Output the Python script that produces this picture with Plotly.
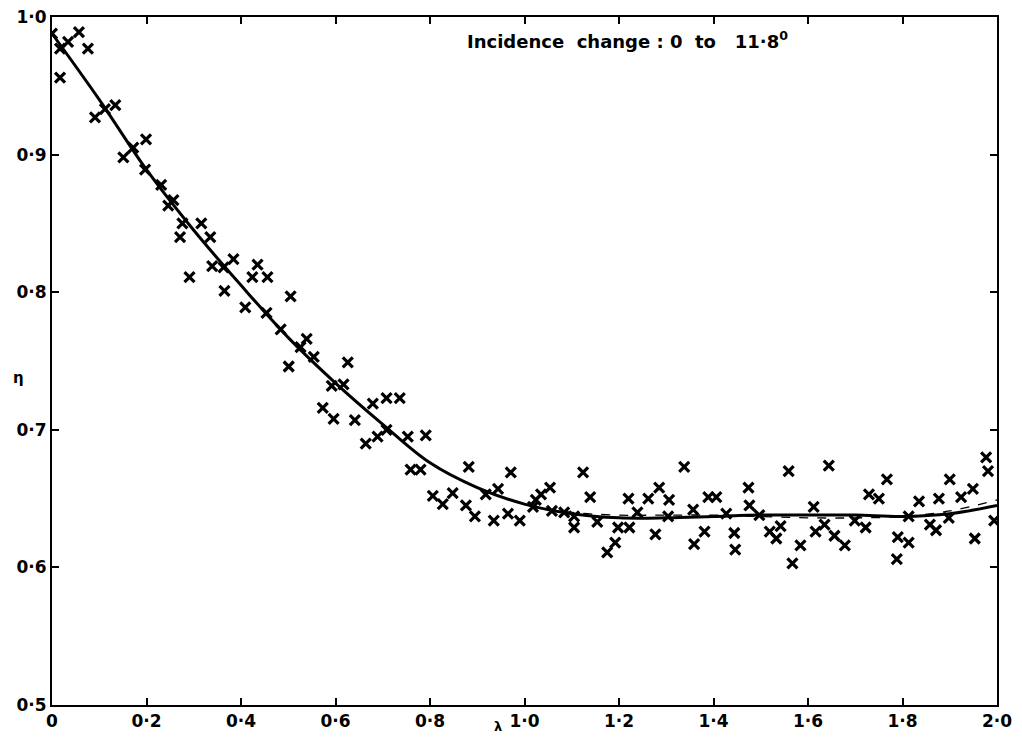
import plotly.graph_objects as go

# Measured points (lambda, eta)
lam = [0.0, 0.017, 0.034, 0.057, 0.076, 0.017, 0.091, 0.112, 0.134, 0.151, 0.172, 0.199, 0.197,
       0.231, 0.246, 0.257, 0.276, 0.316, 0.271, 0.335, 0.339, 0.363, 0.384, 0.435, 0.424, 0.456,
       0.291, 0.365, 0.409, 0.454, 0.505, 0.484, 0.539, 0.526, 0.554, 0.501, 0.626, 0.592, 0.617,
       0.573, 0.596, 0.641, 0.679, 0.708, 0.736, 0.708, 0.689, 0.664, 0.753, 0.791, 0.759, 0.780,
       0.882, 0.971, 0.806, 0.827, 0.848, 0.876, 0.895, 0.918, 0.944, 0.935, 0.965, 0.990, 1.018,
       1.024, 1.035, 1.054, 1.058, 1.084, 1.105, 1.105, 1.124, 1.139, 1.154, 1.175, 1.192, 1.198,
       1.222, 1.220, 1.262, 1.239, 1.285, 1.338, 1.306, 1.304, 1.277, 1.357, 1.359, 1.381, 1.389,
       1.406, 1.427, 1.444, 1.446, 1.474, 1.476, 1.497, 1.519, 1.533, 1.542, 1.559, 1.584, 1.567,
       1.612, 1.616, 1.635, 1.644, 1.656, 1.678, 1.699, 1.722, 1.729, 1.750, 1.767, 1.790, 1.788,
       1.813, 1.813, 1.835, 1.858, 1.871, 1.877, 1.900, 1.898, 1.924, 1.949, 1.953, 1.977, 1.981,
       1.994]
eta = [0.988, 0.977, 0.982, 0.989, 0.977, 0.956, 0.927, 0.933, 0.936, 0.898, 0.905, 0.911, 0.889,
       0.878, 0.863, 0.867, 0.850, 0.850, 0.840, 0.840, 0.819, 0.818, 0.824, 0.820, 0.811, 0.811,
       0.811, 0.801, 0.789, 0.785, 0.797, 0.773, 0.766, 0.760, 0.753, 0.746, 0.749, 0.732, 0.733,
       0.716, 0.708, 0.707, 0.719, 0.723, 0.723, 0.700, 0.695, 0.690, 0.695, 0.696, 0.671, 0.671,
       0.673, 0.669, 0.652, 0.646, 0.654, 0.645, 0.637, 0.653, 0.657, 0.634, 0.639, 0.634, 0.644,
       0.649, 0.653, 0.658, 0.641, 0.640, 0.637, 0.629, 0.669, 0.651, 0.633, 0.611, 0.618, 0.629,
       0.629, 0.650, 0.650, 0.640, 0.658, 0.673, 0.649, 0.637, 0.624, 0.642, 0.617, 0.626, 0.651,
       0.651, 0.639, 0.625, 0.613, 0.658, 0.645, 0.638, 0.626, 0.621, 0.630, 0.670, 0.616, 0.603,
       0.644, 0.626, 0.631, 0.674, 0.623, 0.616, 0.634, 0.629, 0.653, 0.650, 0.664, 0.622, 0.606,
       0.618, 0.637, 0.648, 0.631, 0.627, 0.650, 0.664, 0.636, 0.651, 0.657, 0.621, 0.680, 0.670,
       0.634]

# Fitted curves
curve_lam = [0.0, 0.1, 0.2, 0.3, 0.4, 0.5, 0.6, 0.7, 0.8, 0.9, 1.0, 1.1, 1.2, 1.3, 1.4, 1.5,
             1.6, 1.7, 1.8, 1.9, 2.0]
solid_eta = [0.988, 0.940, 0.889, 0.845, 0.805, 0.767, 0.734, 0.704, 0.676, 0.658, 0.646, 0.639,
             0.636, 0.636, 0.637, 0.638, 0.638, 0.638, 0.637, 0.639, 0.645]
dashed_eta = [0.988, 0.940, 0.889, 0.845, 0.805, 0.767, 0.734, 0.704, 0.676, 0.658, 0.646, 0.640,
              0.638, 0.638, 0.638, 0.637, 0.636, 0.636, 0.637, 0.641, 0.649]

x_ticks = [0, 0.2, 0.4, 0.6, 0.8, 1.0, 1.2, 1.4, 1.6, 1.8, 2.0]
x_labels = ["0", "0·2", "0·4", "0·6", "0·8", "1·0", "1·2", "1·4", "1·6", "1·8", "2·0"]
y_ticks = [0.5, 0.6, 0.7, 0.8, 0.9, 1.0]
y_labels = ["0·5", "0·6", "0·7", "0·8", "0·9", "1·0"]

fig = go.Figure()
fig.add_trace(go.Scatter(x=curve_lam, y=dashed_eta, mode="lines", line_shape="spline",
                         line=dict(color="black", width=1.3, dash="dash"), showlegend=False))
fig.add_trace(go.Scatter(x=curve_lam, y=solid_eta, mode="lines", line_shape="spline",
                         line=dict(color="black", width=3), showlegend=False))
fig.add_trace(go.Scatter(x=lam, y=eta, mode="markers",
                         marker=dict(symbol="x-thin", size=10, line=dict(color="black", width=3.2)),
                         showlegend=False))

tickfont = dict(family="DejaVu Sans", size=17, color="black")
fig.update_xaxes(range=[0, 2.0], tickvals=x_ticks, ticktext=["<b>%s</b>" % t for t in x_labels],
                 ticks="inside", ticklen=7, tickwidth=2, tickcolor="black",
                 showline=True, linecolor="black", linewidth=2, mirror="ticks",
                 showgrid=False, zeroline=False, tickfont=tickfont, automargin=False,
                 ticklabeloverflow="allow")
fig.update_yaxes(range=[0.5, 1.0], tickvals=y_ticks, ticktext=["<b>%s</b>" % t for t in y_labels],
                 ticks="inside", ticklen=7, tickwidth=2, tickcolor="black",
                 showline=True, linecolor="black", linewidth=2, mirror="ticks",
                 showgrid=False, zeroline=False, tickfont=tickfont, automargin=False,
                 ticklabeloverflow="allow")

fig.add_annotation(xref="x", yref="y", x=1.217, y=0.983,
                   text="<b>Incidence  change : 0  to   11·8<sup>0</sup></b>",
                   showarrow=False, font=dict(family="DejaVu Sans", size=18, color="black"))
fig.add_annotation(xref="paper", yref="paper", x=0.472, y=0, yanchor="top", yshift=-12,
                   text="<b>λ</b>", showarrow=False,
                   font=dict(family="DejaVu Sans", size=13, color="black"))
fig.add_annotation(xref="paper", yref="paper", x=0, y=0.476, xanchor="center", xshift=-34,
                   text="<b>η</b>", showarrow=False,
                   font=dict(family="DejaVu Sans", size=15, color="black"))

fig.update_layout(width=1006, height=726, paper_bgcolor="white", plot_bgcolor="white",
                  margin=dict(l=44, r=17, t=9, b=29, autoexpand=False))
fig.write_html("out.html")
